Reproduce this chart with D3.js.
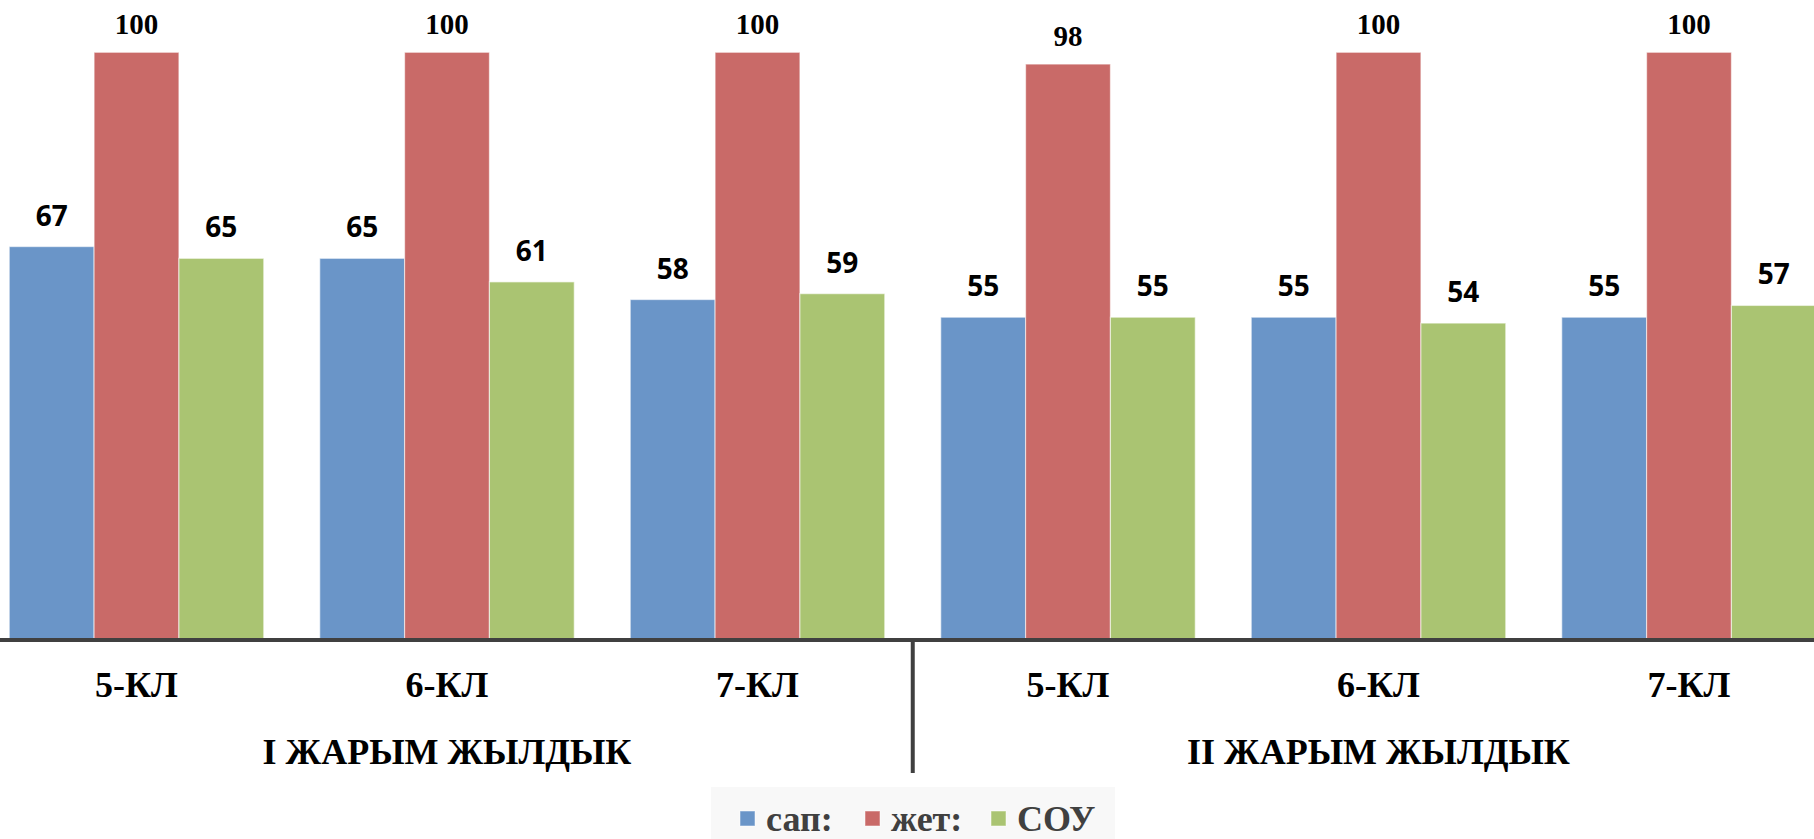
<!DOCTYPE html>
<html>
<head>
<meta charset="utf-8">
<script src="https://cdn.jsdelivr.net/npm/d3@7"></script>
<style>
  html, body { margin: 0; padding: 0; background: #fff; overflow: hidden; }
  svg { display: block; }
  .serif { font-family: "Liberation Serif", "Times New Roman", Tinos, "DejaVu Serif", "Noto Serif", serif; font-weight: bold; }
  .sans { font-family: "Open Sans", "Noto Sans", sans-serif; font-weight: bold; }
</style>
</head>
<body>
<div id="chart"></div>
<script>
// ---- data ----
const categories = ["5-КЛ", "6-КЛ", "7-КЛ", "5-КЛ", "6-КЛ", "7-КЛ"];
const groups = ["I ЖАРЫМ ЖЫЛДЫК", "II ЖАРЫМ ЖЫЛДЫК"];
const seriesNames = ["сап:", "жет:", "СОУ"];
const sapValues = [67, 65, 58, 55, 55, 55];
const zhetValues = [100, 100, 100, 98, 100, 100];
const souValues = [65, 61, 59, 55, 54, 57];
const seriesColors = ["#6A95C8", "#C96A68", "#AAC472"];

const seriesValues = [sapValues, zhetValues, souValues];

const W = 1814, H = 839;
const svg = d3.select("#chart").append("svg").attr("width", W).attr("height", H);

const idx = d3.range(categories.length);
const x0 = d3.scaleBand().domain(idx).range([-18.75, 1844.25]).paddingInner(0).paddingOuter(0);
const x1 = d3.scaleBand().domain(d3.range(seriesNames.length)).range([0, x0.bandwidth()])
  .paddingInner(0).paddingOuter(0.33);
const y = d3.scaleLinear().domain([0, 100]).range([641, 52.3]);

// bars
const gCat = svg.append("g").selectAll("g").data(idx).join("g")
  .attr("transform", i => `translate(${x0(i)},0)`);

gCat.selectAll("rect").data(i => seriesValues.map((vals, s) => ({ s, v: vals[i] })))
  .join("rect")
  .attr("x", d => x1(d.s))
  .attr("y", d => y(d.v))
  .attr("width", x1.bandwidth())
  .attr("height", d => y(0) - y(d.v))
  .attr("fill", d => seriesColors[d.s])
  .attr("stroke", "rgba(255,255,255,0.55)")
  .attr("stroke-width", 1.2);

// value labels
gCat.selectAll("text").data(i => seriesValues.map((vals, s) => ({ s, v: vals[i] })))
  .join("text")
  .attr("class", d => d.s === 1 ? "serif" : "sans")
  .attr("x", d => x1(d.s) + x1.bandwidth() / 2)
  .attr("y", d => y(d.v) - (d.s === 1 ? 18 : 21))
  .attr("text-anchor", "middle")
  .attr("font-size", d => d.s === 1 ? 29 : 28)
  .attr("fill", "#000")
  .text(d => d.v);

// x axis line
svg.append("line")
  .attr("x1", 0).attr("x2", W)
  .attr("y1", 640).attr("y2", 640)
  .attr("stroke", "#404040").attr("stroke-width", 4);

// divider between halves
svg.append("line")
  .attr("x1", x0(3)).attr("x2", x0(3))
  .attr("y1", 640).attr("y2", 773)
  .attr("stroke", "#404040").attr("stroke-width", 4);

// category labels
svg.append("g").selectAll("text").data(idx).join("text")
  .attr("class", "serif")
  .attr("x", i => x0(i) + x0.bandwidth() / 2)
  .attr("y", 697)
  .attr("text-anchor", "middle")
  .attr("font-size", 36)
  .attr("fill", "#000")
  .text(i => categories[i]);

// group labels
svg.append("g").selectAll("text").data(groups).join("text")
  .attr("class", "serif")
  .attr("x", (d, g) => (x0(g * 3) + x0(g * 3 + 2) + x0.bandwidth()) / 2)
  .attr("y", 764)
  .attr("text-anchor", "middle")
  .attr("font-size", 36)
  .attr("fill", "#000")
  .text(d => d);

// legend
const legend = svg.append("g");
legend.append("rect").attr("x", 711).attr("y", 787).attr("width", 404).attr("height", 60).attr("fill", "#F8F8F8");
const legX = [740, 865, 991];
const li = legend.selectAll("g").data(seriesNames).join("g")
  .attr("transform", (d, i) => `translate(${legX[i]},0)`);
li.append("rect").attr("x", 0).attr("y", 811).attr("width", 15).attr("height", 15)
  .attr("fill", (d, i) => seriesColors[i])
  .attr("stroke", "rgba(255,255,255,0.5)").attr("stroke-width", 1);
li.append("text").attr("class", "serif").attr("x", 26).attr("y", 831)
  .attr("font-size", 36)
  .attr("fill", "#404040")
  .text(d => d);
</script>
</body>
</html>
